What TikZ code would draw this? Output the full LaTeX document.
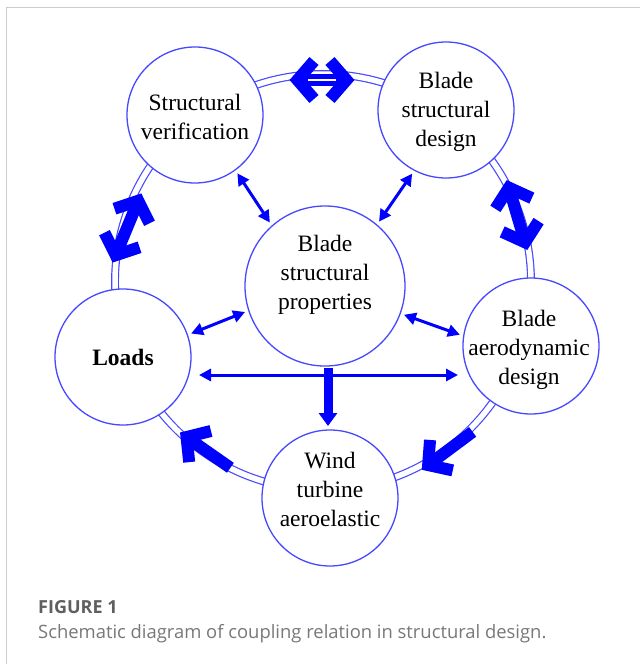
\documentclass[tikz,border=0pt]{standalone}
\usepackage{fontspec}
\setmainfont{Liberation Serif}
\newfontfamily\capfont{Open Sans}
\usetikzlibrary{arrows.meta,calc}

\definecolor{ringblue}{RGB}{72,72,255}
\definecolor{arrowblue}{RGB}{0,0,255}
\definecolor{framegray}{RGB}{204,204,204}
\definecolor{capdark}{RGB}{95,95,95}
\definecolor{caplight}{RGB}{120,120,120}

% fat block arrow lying on the ring: centre, rotation, half length
\newcommand\fatdouble[3]{%
  \begin{scope}[shift={#1},rotate=#2]
    \draw[fat] (-#3+8.5,0) -- (#3-8.5,0);
    \draw[fat] (-#3+25,-19) -- (-#3+8.5,0) -- (-#3+25,19);
    \draw[fat] (#3-25,-19) -- (#3-8.5,0) -- (#3-25,19);
  \end{scope}}
\newcommand\fatsingle[3]{%
  \begin{scope}[shift={#1},rotate=#2]
    \draw[fat] (-#3,0) -- (#3-8.5,0);
    \draw[fat] (#3-25,-19) -- (#3-8.5,0) -- (#3-25,19);
  \end{scope}}

\tikzset{
  bubble/.style={circle, draw=ringblue, line width=1.3pt, fill=white,
    minimum size=136pt, inner sep=0pt, outer sep=4pt},
  lbl/.style={align=center, font=\fontsize{23.5}{29}\selectfont, inner sep=0pt},
  fat/.style={draw=arrowblue, line width=12pt, line cap=butt, line join=miter},
  link/.style={draw=arrowblue, line width=3pt,
    {Triangle[length=12pt,width=12pt]}-{Triangle[length=12pt,width=12pt]}},
  feed/.style={draw=arrowblue, line width=9pt,
    -{Triangle[length=13pt,width=18pt]}},
}

\begin{document}
\begin{tikzpicture}[x=1pt,y=-1pt]
  \useasboundingbox (0,0) rectangle (640,664);
  \fill[white] (0,0) rectangle (640,664);

  % panel frame
  \draw[framegray, line width=1.5pt] (6.7,664) -- (6.7,7.5) -- (640,7.5);

  % double ring joining the outer stages
  \draw[ringblue, line width=1.2pt, double=white, double distance=5.5pt]
    (323,282) circle (208);

  % block arrows on the ring
  \fatdouble{(322,80)}{0}{33}
  \draw[white, line width=2pt] (308,80) -- (336,80);
  \fatdouble{(517,215)}{-73.6}{37}
  \fatdouble{(127,228)}{-112.5}{38}
  \fatsingle{(205,450)}{145}{31}
  \fatsingle{(447,451)}{216.7}{32}

  % stages
  \node[bubble] (sv)    at (195,115) {};
  \node[bubble] (bsd)   at (446,110) {};
  \node[bubble, minimum size=160pt] (bsp) at (325,286) {};
  \node[bubble] (loads) at (123,357) {};
  \node[bubble] (aero)  at (531,346) {};
  \node[bubble] (wind)  at (330,498) {};

  \node[lbl] (svt)    at (195,117) {Structural\\verification};
  \node[lbl] (bsdt)   at (446,112) {Blade\\structural\\design};
  \node[lbl] (bspt)   at (325,275) {Blade\\structural\\properties};
  \node[lbl] (loadst) at (123,357) {\bfseries Loads};
  \node[lbl] (aerot)  at (529,350) {Blade\\aerodynamic\\design};
  \node[lbl] (windt)  at (330,489) {Wind\\turbine\\aeroelastic};

  % couplings with the blade structural properties
  \draw[link] (sv.-54.4)   -- (bsp.131.1);
  \draw[link] (bsd.-118.8) -- (bsp.50.7);
  \draw[link] (loads.19.2) -- (bsp.-162.6);
  \draw[link] (bsp.-20.7)  -- (aero.171);

  % loads <-> aerodynamic design, feeding the aeroelastic model
  \draw[link] ($(loads)+(76,18)$) -- ($(aero)+(-73,29)$);
  \draw[feed] ($(wind)+(-2,-130)$) -- ($(wind.north)+(-2,0)$);

  % caption
  \node[anchor=base west, inner sep=0pt, text=capdark,
        font=\capfont\bfseries\fontsize{18}{20}\selectfont] (figno) at (38,613) {FIGURE 1};
  \node[anchor=base west, inner sep=0pt, text=caplight,
        font=\capfont\fontsize{18.4}{22}\selectfont] (figcap) at (38,638)
        {Schematic diagram of coupling relation in structural design.};
\end{tikzpicture}
\end{document}
